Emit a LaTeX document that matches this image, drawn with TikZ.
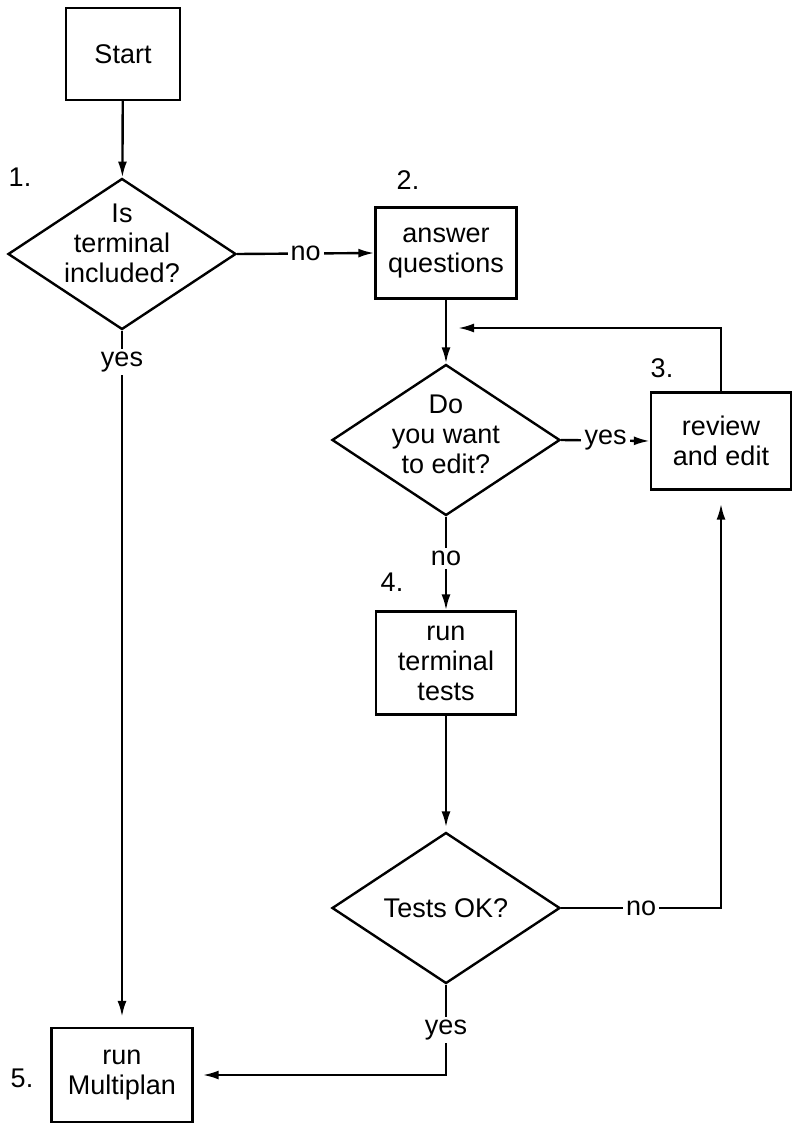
\documentclass[tikz,border=0pt]{standalone}
\usepackage{fontspec}
\setmainfont{Liberation Sans}
\usetikzlibrary{arrows.meta}
\usetikzlibrary{shapes.geometric}

\begin{document}
\begin{tikzpicture}[x=1pt,y=1pt,line width=2.4pt,line join=miter,>={Latex[length=16pt,width=9pt]},
        every node/.style={font=\fontsize{27}{30}\selectfont},
        stepbox/.style={draw,rectangle,align=center,inner sep=0pt},
        decision/.style={draw,diamond,aspect=1.5,align=center,inner sep=-4pt,minimum width=228pt,minimum height=151pt},
        lbl/.style={fill=white,inner sep=3pt}]
        \useasboundingbox (0,0) rectangle (794,-1124);
        \node[stepbox,minimum width=114pt,minimum height=92pt] (start) at (123,-54) {Start};
        \node[decision,text depth=22pt,inner sep=-10pt] (incl) at (122,-254) {Is\\terminal\\included?};
        \node[stepbox,minimum width=141pt,minimum height=91pt] (answer) at (446,-253) {answer\\questions};
        \node[decision,text depth=12pt,inner sep=-7pt] (edit) at (446,-440) {Do\\you want\\to edit?};
        \node[stepbox,minimum width=140pt,minimum height=97pt] (review) at (721,-441) {review\\and edit};
        \node[stepbox,minimum width=140pt,minimum height=103pt] (tests) at (446,-663) {run\\terminal\\tests};
        \node[decision] (ok) at (446,-908) {Tests OK?};
        \node[stepbox,minimum width=141pt,minimum height=94pt] (mplan) at (122,-1075) {run\\Multiplan};
        \node (n1) at (20,-177) {1.};
        \node (n2) at (408,-180) {2.};
        \node (n3) at (662,-368) {3.};
        \node (n4) at (392,-582) {4.};
        \node (n5) at (22,-1078) {5.};
        \coordinate (loopend) at (458,-328);
        \draw[->] (start) -- (incl);
        \draw[->] (incl.east) -- node[lbl] {no} (answer.west);
        \draw[->,shorten >=10pt] (incl.south) -- node[lbl,pos=0.045] {yes} (mplan.north);
        \draw[->] (answer) -- (edit);
        \draw[->] (review.north) |- (loopend);
        \draw[->] (edit.east) -- node[lbl] {yes} (review.west);
        \draw[->] (edit.south) -- node[lbl,pos=0.45] {no} (tests.north);
        \draw[->,shorten >=4pt] (tests) -- (ok);
        \draw[->,shorten >=13pt] (ok.east) -| node[lbl,pos=0.25] {no} (review.south);
        \draw[->,shorten >=9pt] (ok.south) |- node[lbl,pos=0.25] {yes} (mplan.east);
\end{tikzpicture}
\end{document}
